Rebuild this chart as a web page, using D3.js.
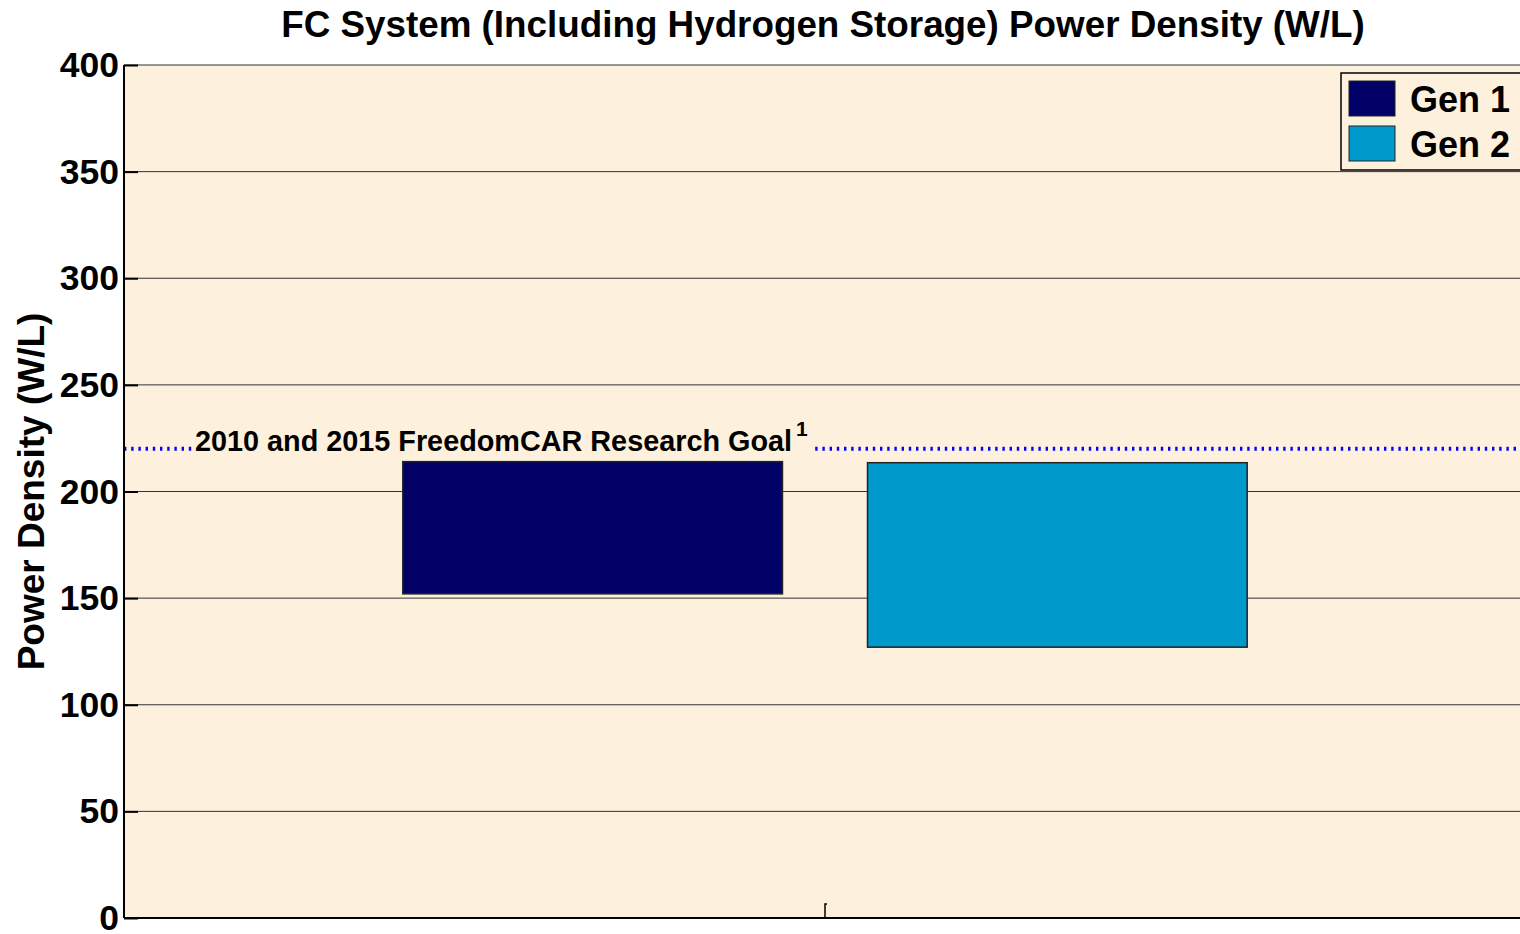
<!DOCTYPE html>
<html>
<head>
<meta charset="utf-8">
<script src="https://cdn.jsdelivr.net/npm/d3@7"></script>
<style>
  body { margin: 0; background: #fff; }
  svg { display: block; font-family: "Liberation Sans", Arial, sans-serif; font-weight: bold; }
</style>
</head>
<body>
<div id="root"></div>
<script>
const width = 1520;
const height = 934;

// data
const series = ["Gen 1", "Gen 2"];
const lowValues = [152, 127];
const highValues = [214, 213.5];
const colors = ["#000066", "#0099cc"];
const goalValue = 220;
const goalLabel = "2010 and 2015 FreedomCAR Research Goal";
const yTicks = [0, 50, 100, 150, 200, 250, 300, 350, 400];

const margin = { top: 65, right: -6, bottom: 16, left: 124 };
const plotW = width - margin.left - margin.right;
const plotH = height - margin.top - margin.bottom;

const svg = d3
  .select("#root")
  .append("svg")
  .attr("width", width)
  .attr("height", height);

const x = d3
  .scaleBand()
  .domain(series)
  .range([margin.left, margin.left + plotW])
  .paddingInner(0.183)
  .paddingOuter(0.6);

const y = d3
  .scaleLinear()
  .domain([0, 400])
  .range([margin.top + plotH, margin.top]);

// plot background
svg
  .append("rect")
  .attr("x", margin.left)
  .attr("y", margin.top)
  .attr("width", plotW)
  .attr("height", plotH)
  .attr("fill", "#fdf0dc");

// grid lines
svg
  .append("g")
  .selectAll("line")
  .data(yTicks.filter((d) => d > 0))
  .join("line")
  .attr("x1", margin.left)
  .attr("x2", margin.left + plotW)
  .attr("y1", (d) => y(d))
  .attr("y2", (d) => y(d))
  .attr("stroke", "#333")
  .attr("stroke-width", 1);

// y axis
const yAxis = svg
  .append("g")
  .attr("transform", `translate(${margin.left},0)`)
  .call(d3.axisRight(y).tickValues(yTicks).tickSize(14).tickFormat(""));
yAxis.select(".domain").remove();
yAxis.selectAll(".tick line").attr("stroke", "#000").attr("stroke-width", 2);

svg
  .append("g")
  .selectAll("text")
  .data(yTicks)
  .join("text")
  .attr("x", margin.left - 5)
  .attr("y", (d) => y(d))
  .attr("dy", "0.34em")
  .attr("text-anchor", "end")
  .attr("font-size", 35.5)
  .text((d) => d);

// goal line (dotted)
svg
  .append("line")
  .attr("x1", margin.left)
  .attr("x2", margin.left + plotW)
  .attr("y1", y(goalValue))
  .attr("y2", y(goalValue))
  .attr("stroke", "#0000ff")
  .attr("stroke-width", 4)
  .attr("stroke-dasharray", "2.4,4.8");

// goal label with a background patch hiding the line
const goal = svg.append("g");
const goalText = goal
  .append("text")
  .attr("x", 195)
  .attr("y", y(goalValue) + 2)
  .attr("font-size", 28.8)
  .text(goalLabel);
goalText
  .append("tspan")
  .attr("font-size", 21)
  .attr("dx", 4)
  .attr("dy", -15)
  .text("1");
const bb = goalText.node().getBBox();
goal
  .insert("rect", "text")
  .attr("x", bb.x - 2)
  .attr("y", bb.y)
  .attr("width", bb.width + 8)
  .attr("height", bb.height)
  .attr("fill", "#fdf0dc");

// floating bars
svg
  .append("g")
  .selectAll("rect")
  .data(series)
  .join("rect")
  .attr("x", (d) => x(d))
  .attr("width", x.bandwidth())
  .attr("y", (d, i) => y(highValues[i]))
  .attr("height", (d, i) => y(lowValues[i]) - y(highValues[i]))
  .attr("fill", (d, i) => colors[i])
  .attr("stroke", "#222")
  .attr("stroke-width", 1.5);

// axes frame
svg
  .append("line")
  .attr("x1", margin.left)
  .attr("x2", margin.left)
  .attr("y1", margin.top)
  .attr("y2", margin.top + plotH)
  .attr("stroke", "#000")
  .attr("stroke-width", 2);
svg
  .append("line")
  .attr("x1", margin.left)
  .attr("x2", margin.left + plotW)
  .attr("y1", margin.top + plotH)
  .attr("y2", margin.top + plotH)
  .attr("stroke", "#000")
  .attr("stroke-width", 2);

// category tick in the middle
const midX = margin.left + plotW / 2;
svg
  .append("path")
  .attr("d", `M${midX},${y(0)}V${y(0) - 14}h2`)
  .attr("fill", "none")
  .attr("stroke", "#000")
  .attr("stroke-width", 1.5);

// legend
const legend = svg.append("g").attr("transform", "translate(1341,73)");
legend
  .append("rect")
  .attr("width", 182)
  .attr("height", 97)
  .attr("fill", "#fdf0dc")
  .attr("stroke", "#000")
  .attr("stroke-width", 1.5);
const item = legend
  .selectAll("g")
  .data(series)
  .join("g")
  .attr("transform", (d, i) => `translate(8,${8 + i * 45})`);
item
  .append("rect")
  .attr("width", 46)
  .attr("height", 35)
  .attr("fill", (d, i) => colors[i])
  .attr("stroke", "#222")
  .attr("stroke-width", 1);
item
  .append("text")
  .attr("x", 61)
  .attr("y", 18)
  .attr("dy", "0.36em")
  .attr("font-size", 36)
  .text((d) => d);

// title
svg
  .append("text")
  .attr("x", 823)
  .attr("y", 37)
  .attr("text-anchor", "middle")
  .attr("font-size", 36.8)
  .text("FC System (Including Hydrogen Storage) Power Density (W/L)");

// y label
svg
  .append("text")
  .attr("transform", `translate(44,${y(200)}) rotate(-90)`)
  .attr("text-anchor", "middle")
  .attr("font-size", 37)
  .text("Power Density (W/L)");
</script>
</body>
</html>
